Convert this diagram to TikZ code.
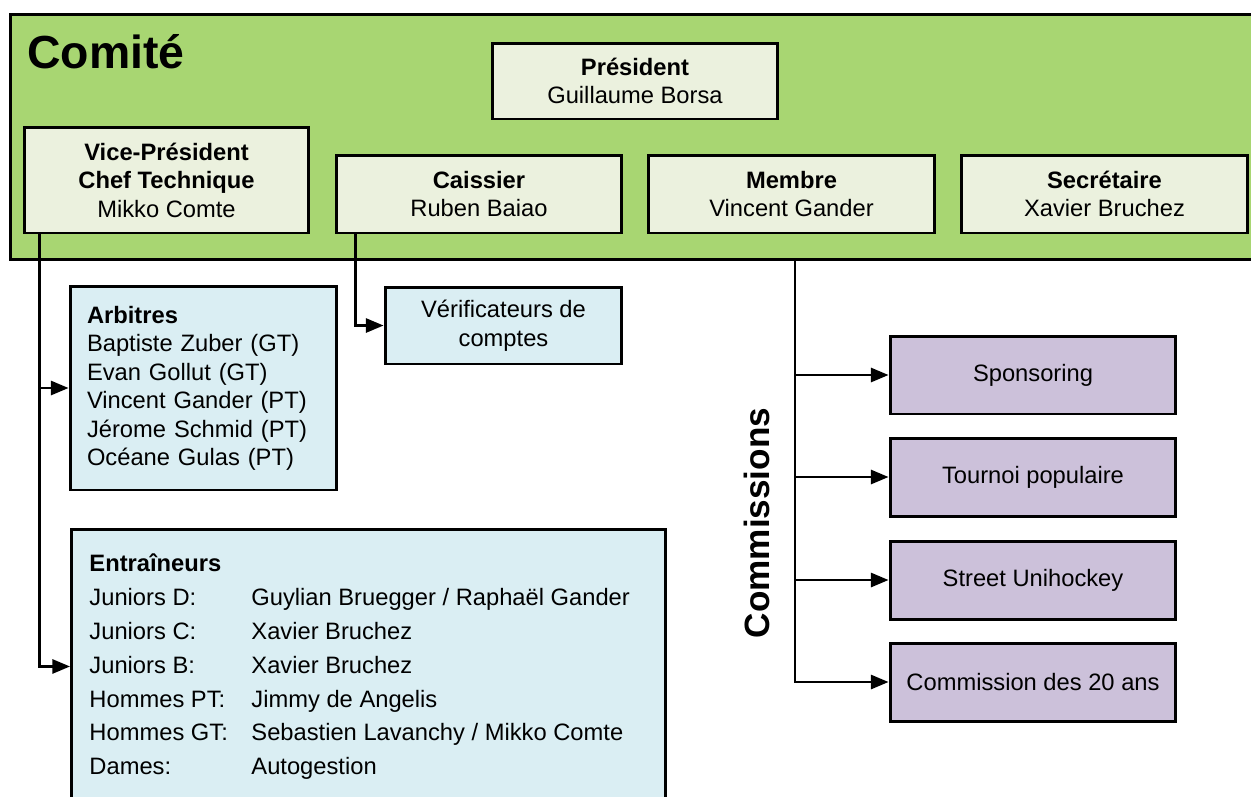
\documentclass[tikz,border=0pt]{standalone}
\usepackage{fontspec}
\setmainfont{Liberation Sans}
\usepackage{array}
\usetikzlibrary{arrows.meta}
\definecolor{comitegreen}{HTML}{A8D672}
\definecolor{rolegreen}{HTML}{EBF1DE}
\definecolor{groupblue}{HTML}{DAEEF3}
\definecolor{commpurple}{HTML}{CCC1DA}
\tikzset{
	rolebox/.style={draw=black, line width=1.7pt, fill=rolegreen, align=center, inner sep=0pt, font=\fontsize{13.5}{16.2}\selectfont},
	groupbox/.style={draw=black, line width=1.7pt, fill=groupblue, inner sep=0pt, font=\fontsize{13.5}{16.2}\selectfont},
	commbox/.style={draw=black, line width=1.7pt, fill=commpurple, inner sep=0pt, minimum width=5.72cm, minimum height=1.56cm, font=\fontsize{13.5}{16.2}\selectfont},
	link/.style={line width=1.4pt, -{Triangle[length=10pt,width=8pt]}}
}

\begin{document}
\begin{tikzpicture}[x=0.02cm, y=-0.02cm]
			%%%%% START %%%%%
			\useasboundingbox (0,0) rectangle (1251,796);
			
			\node[draw=black, line width=1.7pt, fill=comitegreen, minimum width=25.04cm, minimum height=4.92cm] (comite) at (636,137) {};
			\node[anchor=base west, inner sep=0pt, font=\bfseries\fontsize{26.4}{30}\selectfont] (comitelabel) at (27,68) {Comité};
			
			\node[rolebox, minimum width=5.72cm, minimum height=1.52cm] (president) at (635,81) {\textbf{Président}\\Guillaume Borsa};
			\node[rolebox, minimum width=5.70cm, minimum height=2.12cm] (vice) at (166.5,180) {\textbf{Vice-Président}\\\textbf{Chef Technique}\\Mikko Comte};
			\node[rolebox, minimum width=5.72cm, minimum height=1.56cm] (caissier) at (479,194) {\textbf{Caissier}\\Ruben Baiao};
			\node[rolebox, minimum width=5.74cm, minimum height=1.56cm] (membre) at (791.5,194) {\textbf{Membre}\\Vincent Gander};
			\node[rolebox, minimum width=5.74cm, minimum height=1.56cm] (secretaire) at (1104.5,194) {\textbf{Secrétaire}\\Xavier Bruchez};
			
			\node[groupbox, align=left, text width=4.66cm, minimum width=5.34cm, minimum height=4.08cm] (arbitres) at (203.5,388) {\rule{0pt}{0.36cm}\textbf{Arbitres}\\Baptiste Zuber (GT)\\Evan Gollut (GT)\\Vincent Gander (PT)\\Jérome Schmid (PT)\\Océane Gulas (PT)};
			\node[groupbox, align=center, minimum width=4.74cm, minimum height=1.54cm] (verif) at (503.5,325.5) {Vérificateurs de\\comptes};
			\node[groupbox, anchor=north west, minimum width=11.88cm, minimum height=5.48cm] (entr) at (70,528) {%
				\renewcommand{\arraystretch}{1.19}%
				\begin{tabular}{@{}p{3.24cm}@{}p{7.92cm}@{}}
					\textbf{Entraîneurs} & \\
					Juniors D: & Guylian Bruegger / Raphaël Gander\\
					Juniors C: & Xavier Bruchez\\
					Juniors B: & Xavier Bruchez\\
					Hommes PT: & Jimmy de Angelis\\
					Hommes GT: & Sebastien Lavanchy / Mikko Comte\\
					Dames: & Autogestion
				\end{tabular}};
			
			\node[commbox] (sponsoring) at (1033,375) {Sponsoring};
			\node[commbox] (tournoi) at (1033,477) {Tournoi populaire};
			\node[commbox] (street) at (1033,580) {Street Unihockey};
			\node[commbox] (vingtans) at (1033,682) {Commission des 20 ans};
			\node[rotate=90, inner sep=0pt, font=\bfseries\fontsize{20}{24}\selectfont] (commlabel) at (757,523) {Commissions};
			
			\draw[link] ([xshift=0.34cm]vice.south west) |- (arbitres.west);
			\draw[link] ([xshift=0.34cm]vice.south west) |- (entr.west);
			\draw[link] ([xshift=0.42cm]caissier.south west) |- (verif.west);
			
			\coordinate (commstem) at (795,260);
			\draw[link] (commstem) |- (sponsoring.west);
			\draw[link] (commstem) |- (tournoi.west);
			\draw[link] (commstem) |- (street.west);
			\draw[link] (commstem) |- (vingtans.west);
			
			%%%%% END %%%%%
\end{tikzpicture}
\end{document}
